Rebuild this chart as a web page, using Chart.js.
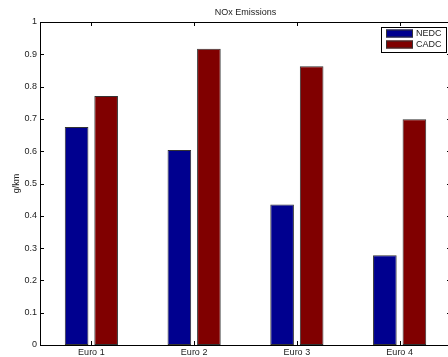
<!DOCTYPE html>
<html>
<head>
<meta charset="utf-8">
<script src="https://cdn.jsdelivr.net/npm/chart.js@4"></script>
<style>
  html, body { margin: 0; padding: 0; overflow: hidden; background: #fff; }
  canvas { display: block; }
</style>
</head>
<body>
<canvas id="c" width="452" height="357"></canvas>
<script>
const categories = ['Euro 1', 'Euro 2', 'Euro 3', 'Euro 4'];
const nedc = [0.675, 0.604, 0.435, 0.278];
const cadc = [0.771, 0.917, 0.863, 0.699];
const yTicks = [0, 0.1, 0.2, 0.3, 0.4, 0.5, 0.6, 0.7, 0.8, 0.9, 1];

const FONT = "'Liberation Sans', Arial, Helvetica, sans-serif";
const TEXT = '#222';

// matlab style box, inward ticks and boxed legend
const matlabAxes = {
  id: 'matlabAxes',
  afterDraw(chart) {
    const { ctx, chartArea: a, scales } = chart;
    const tick = 4;
    ctx.save();
    ctx.strokeStyle = '#000';
    ctx.lineWidth = 1;
    ctx.beginPath();
    ctx.rect(Math.round(a.left) + 0.5, Math.round(a.top) + 0.5,
      Math.round(a.right - a.left) - 1, Math.round(a.bottom - a.top));
    ctx.stroke();

    ctx.beginPath();
    yTicks.forEach(v => {
      const y = Math.round(scales.y.getPixelForValue(v)) + 0.5;
      ctx.moveTo(a.left, y); ctx.lineTo(a.left + tick, y);
      ctx.moveTo(a.right, y); ctx.lineTo(a.right - tick, y);
    });
    categories.forEach((c, i) => {
      const x = Math.round(scales.x.getPixelForValue(i)) + 0.5;
      ctx.moveTo(x, a.top); ctx.lineTo(x, a.top + tick);
      ctx.moveTo(x, a.bottom); ctx.lineTo(x, a.bottom - tick);
    });
    ctx.stroke();

    // legend
    const lx = 381, ly = 27, lw = 65, lh = 25;
    ctx.fillStyle = '#fff';
    ctx.fillRect(lx, ly, lw, lh);
    ctx.strokeRect(lx + 0.5, ly + 0.5, lw, lh);
    ctx.font = '9px ' + FONT;
    ctx.textBaseline = 'middle';
    chart.data.datasets.forEach((ds, i) => {
      const y = ly + 2.5 + i * 11;
      ctx.fillStyle = ds.backgroundColor;
      ctx.fillRect(lx + 5, y, 27, 8);
      ctx.strokeStyle = '#333';
      ctx.strokeRect(lx + 5.5, y + 0.5, 26, 7);
      ctx.fillStyle = TEXT;
      ctx.fillText(ds.label, lx + 35, y + 4.5);
    });
    ctx.restore();
  }
};

new Chart(document.getElementById('c'), {
  type: 'bar',
  data: {
    labels: categories,
    datasets: [
      { label: 'NEDC', data: nedc, backgroundColor: '#00008f', borderColor: '#333', borderWidth: 1, borderSkipped: false },
      { label: 'CADC', data: cadc, backgroundColor: '#800000', borderColor: '#333', borderWidth: 1, borderSkipped: false }
    ]
  },
  options: {
    responsive: false,
    animation: false,
    layout: { padding: { top: 0, right: 1, bottom: 0, left: 0 } },
    datasets: { bar: { categoryPercentage: 0.575, barPercentage: 0.8 } },
    plugins: {
      legend: { display: false },
      tooltip: { enabled: false },
      title: {
        display: true,
        text: 'NOx Emissions',
        fullSize: false,
        color: TEXT,
        font: { family: FONT, size: 9, weight: 'normal' },
        padding: { top: 7, bottom: 4.2 }
      }
    },
    scales: {
      x: {
        offset: true,
        grid: { display: false, drawTicks: false },
        border: { display: false },
        ticks: { color: TEXT, font: { family: FONT, size: 9 }, padding: 2, maxRotation: 0 },
        afterFit(s) { s.height = 12; }
      },
      y: {
        min: 0,
        max: 1,
        grid: { display: false, drawTicks: false },
        border: { display: false },
        afterBuildTicks(s) { s.ticks = yTicks.map(v => ({ value: v })); },
        ticks: {
          color: TEXT,
          font: { family: FONT, size: 9 },
          padding: 3,
          callback: v => String(v)
        },
        title: {
          display: true,
          text: 'g/km',
          color: TEXT,
          font: { family: FONT, size: 9 },
          padding: { top: 11, bottom: 0 }
        },
        afterFit(s) { s.width = 40; }
      }
    }
  },
  plugins: [matlabAxes]
});
</script>
</body>
</html>
